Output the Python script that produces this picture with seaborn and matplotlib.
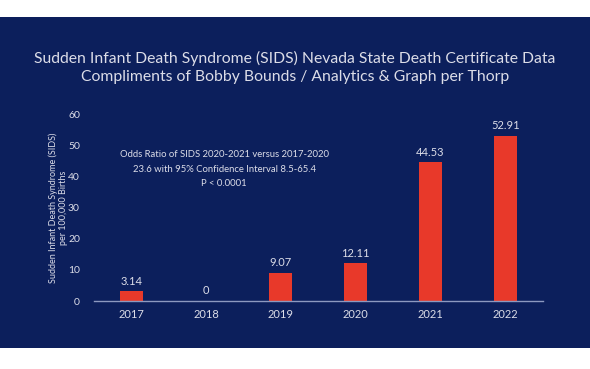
import seaborn as sns
import matplotlib.pyplot as plt
import matplotlib.patches as mpatches
import pandas as pd

years = ['2017', '2018', '2019', '2020', '2021', '2022']
sids_rate = [3.14, 0, 9.07, 12.11, 44.53, 52.91]
value_labels = ['3.14', '0', '9.07', '12.11', '44.53', '52.91']

navy = '#0c1f5c'
red = '#e8392a'
txt = '#dcdde8'

df = pd.DataFrame({'year': years, 'rate': sids_rate})

sns.set_style("white")
plt.rcParams['font.family'] = ['Lato', 'DejaVu Sans']

fig = plt.figure(figsize=(5.9, 3.69), dpi=100, facecolor='white')
# slide background
fig.patches.append(mpatches.Rectangle((0, 0.057), 1, 0.897, transform=fig.transFigure,
                                      facecolor=navy, edgecolor='none', zorder=-1))

ax = fig.add_axes([0.159, 0.184, 0.761, 0.507])
ax.set_zorder(2)
ax.set_facecolor('none')
sns.barplot(data=df, x='year', y='rate', color=red, width=0.31, saturation=1,
            linewidth=0, edgecolor='none', ax=ax)

ax.set_ylim(0, 60)
ax.set_xlim(-0.5, 5.5)
ax.set_yticks(range(0, 61, 10))
for s in ['top', 'right', 'left']:
    ax.spines[s].set_visible(False)
ax.spines['bottom'].set_color('#8d99c0')
ax.spines['bottom'].set_linewidth(1)
ax.set_xticks([i - 0.5 for i in range(7)], minor=True)
ax.tick_params(axis='x', which='minor', length=3, color='#8d99c0', width=1, direction='out')
ax.tick_params(axis='x', which='major', length=0, labelsize=8, labelcolor=txt, pad=6)
ax.tick_params(axis='y', length=0, labelsize=7.5, labelcolor=txt, pad=10)

for i, v in enumerate(sids_rate):
    ax.text(i, v + 1.5, value_labels[i], ha='center', va='bottom', fontsize=8, color=txt)

ax.set_xlabel('')
ax.set_ylabel('Sudden Infant Death Syndrome (SIDS)\nper 100,000 Births', fontsize=6.5,
              color=txt, labelpad=0, linespacing=1.2)

ax.text(1.24, 42.3, 'Odds Ratio of SIDS 2020-2021 versus 2017-2020\n'
        '23.6 with 95% Confidence Interval 8.5-65.4\nP < 0.0001',
        ha='center', va='center', fontsize=6.8, color=txt, linespacing=1.75)

fig.text(0.5, 0.817, 'Sudden Infant Death Syndrome (SIDS) Nevada State Death Certificate Data\n'
         'Compliments of Bobby Bounds / Analytics & Graph per Thorp',
         ha='center', va='center', fontsize=11.3, color=txt, linespacing=1.4)

fig.savefig('out.png', dpi=100, facecolor='white')
